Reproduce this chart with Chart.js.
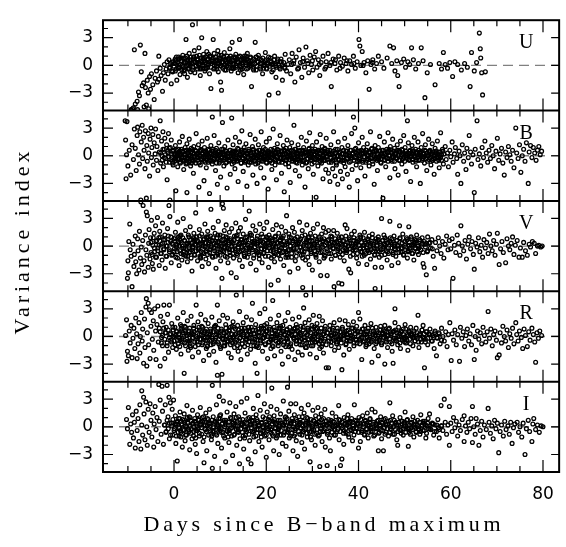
<!DOCTYPE html>
<html>
<head>
<meta charset="utf-8">
<script src="https://cdn.jsdelivr.net/npm/chart.js@4.4.1/dist/chart.umd.min.js"></script>
<style>
  html, body { margin: 0; padding: 0; background: #fff; }
  canvas { display: block; }
</style>
</head>
<body>
<canvas id="variance" width="566" height="547"></canvas>
<script>
// tick labels and band names
const bandNames = ['U', 'B', 'V', 'R', 'I'];
const dayTicks = [0, 20, 40, 60, 80];
const indexTicks = [-3, 0, 3];

// [days since B max, variance index]
const uBand = [
  [-9.3,-4.8],[-8.8,-4.6],[-8.4,-4.2],[-8.6,1.7],[-7.3,2.2],[-6.3,1.3],[-8.0,-3.9],[-7.7,-2.9],[-7.5,-3.3],[-7.1,-0.7],
  [-6.9,-2.2],[-6.6,-1.9],[-6.2,-2.4],[-6.0,-4.3],[-5.8,-1.6],[-5.6,-3.0],[-5.3,-1.2],[-5.1,-2.6],[-4.9,-0.9],[-4.6,-2.1],
  [-4.3,-3.7],[-4.1,-1.4],[-3.8,-0.6],[-3.6,-1.8],[-3.3,-1.5],[-3.3,1.0],[-3.0,-0.3],[-2.8,-1.1],[-2.5,-2.8],[-2.3,-0.8],
  [-2.1,0.1],[-1.9,-1.6],[-1.7,-0.4],[-1.5,0.4],[-1.3,-0.9],[-1.1,0.6],[-0.9,-0.2],[-0.6,-2.0],[-0.5,0.3],[-0.3,-0.7],
  [-9.0,-4.7],[-7.9,-4.8],[-6.5,-4.5],[-5.5,-4.7],
  [0.1,0.2],[0.3,-0.6],[0.5,0.9],[0.6,-1.6],[0.8,0.4],[1.0,-0.3],[1.1,0.7],[1.3,-1.0],[1.4,0.1],[1.6,0.5],
  [1.7,-0.5],[1.9,1.1],[2.0,-0.1],[2.2,0.3],[2.3,-0.9],[2.5,0.8],[2.6,2.8],[2.7,0.0],[2.9,-1.3],[3.0,0.6],
  [3.1,-0.4],[3.3,1.3],[3.4,0.2],[3.6,-0.7],[3.7,0.9],[3.9,0.3],[4.0,4.4],[4.1,-0.2],[4.2,0.7],[4.4,1.6],
  [4.5,-0.8],[4.6,0.4],[4.8,0.0],[4.9,1.0],[5.1,-0.4],[5.2,0.6],[5.4,1.9],[5.5,0.2],[5.7,-1.1],[5.8,0.8],
  [6.0,3.0],[6.1,0.3],[6.2,-0.3],[6.4,1.2],[6.5,0.5],[6.7,-0.6],[6.8,0.9],[7.0,0.1],[7.1,1.5],[7.3,-0.2],
  [7.4,0.7],[7.6,0.4],[7.7,-0.9],[7.9,1.0],[8.0,-2.5],[8.1,0.2],[8.3,0.6],[8.5,2.8],[8.6,-0.4],[8.7,1.3],
  [8.9,0.3],[9.0,0.9],[9.2,-0.1],[9.3,0.5],[9.5,1.6],[9.6,-0.7],[9.8,0.8],[9.9,0.2],[10.1,-1.8],[10.2,1.1],
  [10.3,-2.7],[10.4,0.4],[10.6,-0.3],[10.7,0.7],[10.9,1.4],[11.0,0.1],[11.2,0.6],[11.3,-0.5],[11.5,1.0],[11.6,0.3],
  [11.8,-0.2],[11.9,0.8],[12.1,1.8],[12.2,0.4],[12.4,-0.6],[12.6,2.5],[12.7,0.2],[12.9,0.9],[13.0,-0.3],[13.2,0.5],
  [13.4,1.2],[13.5,0.0],[13.7,0.7],[13.9,-0.8],[14.0,0.3],[14.2,2.8],[14.3,1.0],[14.5,-0.2],[14.7,0.6],[14.9,0.1],
  [15.1,-1.0],[15.3,0.8],[15.5,0.3],[15.7,-0.4],[15.9,1.3],[16.1,0.5],[16.3,-0.1],[16.6,0.9],[16.8,-2.3],[17.0,0.2],
  [17.3,0.7],[17.6,2.5],[17.8,-0.5],[18.1,0.4],[18.3,1.1],[18.6,-0.2],[18.9,0.6],[19.2,-0.9],[19.5,0.3],[19.8,1.4],
  [20.1,-0.4],[20.3,0.1],[20.6,-3.2],[20.9,0.8],[21.2,-0.7],[21.5,0.2],[21.8,1.0],[22.1,-1.3],[22.4,0.5],[22.6,-3.0],
  [22.9,-0.2],[23.2,0.7],[23.5,-1.6],[23.8,0.3],[24.1,1.2],[24.4,-0.6],[24.7,0.1],
  [0.4,0.5],[0.9,-0.2],[1.5,0.8],[2.1,-0.6],[2.8,0.4],[3.5,-0.1],[4.3,0.9],[5.0,0.3],[5.6,-0.3],[6.3,0.7],
  [6.9,-0.4],[7.5,1.2],[8.2,0.5],[8.8,-0.3],[9.4,0.6],[10.0,0.0],[10.8,0.9],[11.4,-0.1],[12.0,0.6],[12.8,-0.3],
  [13.3,0.9],[13.8,0.4],[14.4,-0.5],[15.0,0.7],[15.6,1.0],[16.4,0.2],[17.1,-0.3],[17.9,0.9],[18.7,0.2],[19.4,-0.3],
  [20.0,0.6],[21.0,0.3],[22.0,0.0],[23.0,0.4],[24.0,-0.3],
  [25.0,0.6],[25.3,-0.9],[25.6,1.3],[25.9,0.2],[26.2,-1.8],[26.5,0.9],[26.8,-0.4],[27.1,1.7],[27.4,0.3],[27.7,-1.3],
  [28.0,0.8],[28.3,-0.2],[28.6,2.0],[28.9,0.5],[29.2,-0.8],[29.5,1.1],[29.8,0.1],[30.1,-0.5],[30.4,0.9],[30.7,1.5],
  [31.0,-0.2],[31.3,0.6],[31.6,-1.1],[31.9,0.3],[32.3,1.0],[32.7,-0.4],[33.0,0.4],[33.4,1.3],[33.8,0.0],[34.1,-2.3],
  [34.5,0.7],[34.9,0.2],[35.3,-0.5],[35.7,1.0],[36.1,0.3],[36.5,-0.1],[36.9,0.8],[37.3,0.2],[37.7,-0.6],[38.1,0.5],
  [38.5,0.1],[38.9,1.0],[39.3,-0.3],[39.7,0.4],[40.1,2.8],[40.3,2.1],[40.5,0.0],[40.8,1.5],[41.2,0.3],[41.6,-0.8],
  [42.0,0.5],[42.3,-2.6],[42.7,0.1],[43.1,0.6],[43.5,-0.4],[43.9,0.2],[44.3,1.0],
  [25.5,0.1],[26.0,0.5],[27.0,-0.3],[27.9,0.4],[29.0,0.2],[30.0,0.5],[31.5,0.1],[32.9,-0.2],[34.0,0.3],[35.0,0.6],
  [36.0,-0.3],[37.5,0.5],[39.0,0.2],[41.0,0.0],[43.0,0.3],
  [45.0,0.4],[45.5,-0.3],[46.2,0.8],[46.8,2.1],[47.2,0.2],[47.6,1.9],[47.9,-0.6],[48.3,0.5],[48.5,-1.1],[48.8,-2.3],
  [49.3,0.3],[49.8,0.7],[50.2,-0.2],[50.7,0.4],[51.1,0.1],[51.5,1.9],[51.9,0.6],[52.4,-0.4],[53.0,0.2],[53.6,1.9],
  [54.0,0.5],[54.4,-3.5],[54.9,-0.8],[55.6,0.1],[56.6,-2.1],[57.5,0.2],[58.0,-0.4],[58.4,1.4],[58.8,0.1],[59.3,-0.3],
  [59.8,0.3],[60.4,-1.2],[60.9,0.4],[61.5,0.1],[62.3,-0.5],[63.0,0.2],[63.6,-0.2],[64.2,-2.3],[64.5,1.4],[65.1,-0.6],
  [65.6,0.3],[66.2,3.5],[66.4,1.8],[66.5,0.8],[66.7,-0.8],[66.9,-3.2],[67.5,-0.7]
];
// the crowded middle of the U cloud
const uCore = [
  [-1.0,-0.3],[-0.75,0.2],[-0.5,-0.6],[-0.25,0.4],[0.0,-0.1],[0.25,0.7],[0.5,-0.4],[0.75,0.3],[1.0,0.9],[1.25,-0.2],
  [1.5,0.5],[1.75,0.0],[2.0,0.8],[2.25,-0.5],[2.5,0.3],[2.75,1.0],[3.0,0.1],[3.25,-0.3],[3.5,0.6],[3.75,0.2],
  [4.0,-0.5],[4.25,0.9],[4.5,0.4],[4.75,-0.1],[5.0,0.7],[5.25,0.1],[5.5,1.1],[5.75,-0.4],[6.0,0.5],[6.25,0.0],
  [6.5,0.8],[6.75,0.3],[7.0,-0.3],[7.25,0.6],[7.5,0.1],[7.75,1.0],[8.0,-0.2],[8.25,0.4],[8.5,0.8],[8.75,0.0],
  [9.0,0.5],[9.25,-0.4],[9.5,0.2],[9.75,1.1],[10.0,0.6],[10.25,-0.1],[10.5,0.3],[10.75,0.9],[11.0,-0.5],[11.25,0.4],
  [11.5,0.0],[11.75,0.7],[12.0,0.2],[12.25,1.0],[12.5,-0.3],[12.75,0.5],[13.0,0.1],[13.25,0.8],[13.5,-0.2],[13.75,0.4],
  [14.0,0.9],[14.25,0.0],[14.5,0.6],[14.75,-0.4],[15.0,0.3],[15.25,1.0],[15.5,0.1],[15.75,0.6],[16.0,-0.3],[16.25,0.4],
  [16.5,0.8],[16.75,0.0],[17.0,0.5],[17.25,-0.5],[17.5,0.2],[17.75,0.9],[18.0,-0.1],[18.25,0.4],[18.5,0.7],[18.75,-0.4],
  [19.0,0.2],[19.25,0.8],[19.5,0.0],[19.75,0.5],[20.0,-0.3],[20.25,0.3],[20.5,0.9],[20.75,-0.1],[21.0,0.5],[21.25,0.1],
  [21.5,-0.5],[21.75,0.6],[22.0,0.2],[22.25,-0.2],[22.5,0.7],[22.75,0.0],[23.0,-0.4],[23.25,0.4],[23.5,0.1],[24.0,-0.2]
];

const bBand = [
  [-10.6,3.8],[-10.2,3.7],[-10.5,1.7],[-10.3,0.1],[-10.0,-1.1],[-10.4,-2.5],[-9.4,-2.1],[-9.7,0.6],[-9.1,1.2],[-8.8,-0.4],
  [-8.6,2.9],[-8.4,0.8],[-8.2,-1.6],[-8.0,2.2],[-7.9,3.1],[-7.7,0.1],[-7.5,-0.9],[-7.4,2.6],[-7.2,-4.8],[-7.1,1.5],
  [-6.9,3.3],[-6.8,-0.3],[-6.6,2.0],[-6.5,0.6],[-6.3,-1.4],[-6.2,2.7],[-6.0,-4.6],[-5.9,1.1],[-5.8,-0.6],[-5.6,2.4],
  [-5.5,0.3],[-5.3,-2.2],[-5.2,1.8],[-5.0,3.0],[-4.9,-0.2],[-4.8,0.9],
  [-4.6,2.3],[-4.5,-1.0],[-4.3,1.4],[-4.1,0.2],[-4.0,2.9],[-3.8,-0.5],[-3.7,1.0],[-3.5,-1.6],[-3.4,2.1],[-3.2,0.4],
  [-3.0,3.8],[-2.9,-0.8],[-2.7,1.6],[-2.6,0.0],[-2.4,2.6],[-2.3,-1.2],[-2.1,0.7],[-2.0,1.9],[-1.8,-0.3],[-1.6,1.2],
  [-1.5,-2.6],[-1.3,0.3],[-1.2,2.4],[-1.0,-0.7],[-0.9,-4.8],[-0.8,0.9],[-0.6,1.7],[-0.5,-0.2],[-0.3,0.5],[-0.2,-1.0],
  [0.0,0.2],[0.1,-0.6],[0.3,1.1],[0.4,-3.8],[0.5,-0.1],[0.6,0.6],[0.8,-1.2],[0.9,0.3],[1.0,-0.4],[1.2,1.5],
  [1.3,0.0],[1.4,-0.8],[1.6,0.7],[1.7,-0.2],[1.8,2.1],[2.0,0.4],[2.1,-1.5],[2.2,-0.5],[2.4,0.9],[2.5,0.1],
  [2.6,-0.9],[2.8,-4.0],[2.8,1.3],[2.9,-0.3],[3.1,0.5],[3.2,-0.7],[3.3,1.8],[3.5,0.0],[3.6,-1.1],[3.7,0.8],
  [3.9,-0.4],[4.0,0.3],[4.2,-1.9],[4.3,1.0],[4.4,-0.1],[4.6,0.6],[4.7,-0.8],[4.8,2.4],[5.0,0.2],[5.1,-0.5],
  [5.3,1.2],[5.4,-3.4],[5.5,0.0],[5.7,-1.0],[5.8,0.7],[6.0,-0.3],[6.1,1.6],[6.2,0.3],[6.4,-0.6],[6.5,-2.7],
  [6.6,0.9],[6.8,-0.1],[6.9,0.4],[7.0,-1.3],[7.2,1.9],[7.3,0.1],[7.4,-0.7],[7.6,0.6],[7.7,-4.1],[7.8,-0.2],
  [8.0,1.1],[8.1,0.2],[8.3,4.2],[8.3,-0.9],[8.5,0.5],[8.6,-0.4],[8.7,2.2],[8.9,0.0],[9.0,-1.6],[9.2,0.8],
  [9.3,-0.3],[9.4,-3.1],[9.6,0.4],[9.7,1.4],[9.8,-0.8],[10.0,0.1],[10.1,-2.3],[10.3,0.7],[10.4,-0.5],[10.5,3.6],
  [10.7,0.2],[10.8,-1.1],[11.0,1.0],[11.1,-0.2],[11.2,0.5],[11.4,-0.7],[11.5,-3.5],[11.7,1.7],[11.8,0.0],[11.9,-0.4],
  [12.1,0.6],[12.2,-2.0],[12.4,0.3],[12.5,4.1],[12.6,-0.9],[12.8,1.2],[12.9,-0.1],[13.1,0.4],[13.2,-1.4],[13.3,2.0],
  [13.5,0.1],[13.6,-0.6],[13.8,0.8],[13.9,-2.8],[14.0,-0.3],[14.2,1.5],[14.3,0.2],[14.5,-0.8],[14.6,0.6],[14.7,2.7],
  [14.9,-0.2],[15.0,-1.7],[15.2,0.9],[15.3,0.0],[15.5,-0.5],[15.6,1.3],[15.8,-3.3],[15.9,0.3],[16.1,-1.0],[16.2,0.7],
  [16.4,-0.3],[16.5,2.3],[16.7,0.1],[16.8,-0.7],[17.0,1.0],[17.1,-2.1],[17.3,0.4],[17.4,-0.1],[17.6,1.8],[17.7,-0.9],
  [17.9,0.5],[18.0,-3.0],[18.2,0.0],[18.3,1.2],[18.5,-0.4],[18.6,0.6],[18.8,-1.3],[18.9,2.6],[19.1,0.2],[19.2,-0.6],
  [19.4,0.9],[19.5,-2.4],[19.7,0.3],[19.8,-0.2],[20.0,1.5],[20.1,-0.8],[20.3,0.5],[20.4,-3.6],[20.6,0.0],[20.7,1.9],
  [20.9,-0.5],[21.0,0.7],[21.2,-1.5],[21.3,0.2],[21.5,2.9],[21.6,-0.3],[21.8,0.8],[21.9,-1.0],[22.1,0.4],[22.2,-2.6],
  [22.4,1.3],[22.5,-0.1],[22.7,0.6],[22.8,-0.7],[23.0,2.2],[23.1,0.1],[23.3,-1.9],[23.4,0.5],[23.6,-0.4],[23.7,1.1],
  [23.9,-3.9],[24.0,0.2],[24.2,-0.9],[24.3,0.8],[24.5,1.7],[24.6,-0.2],[24.8,0.4],[24.9,-1.2],[25.1,0.9],[25.2,-2.9],
  [25.4,0.0],[25.5,1.4],[25.7,-0.6],[25.8,0.5],[26.0,3.3],[26.1,-0.1],[26.3,-1.6],[26.4,0.7],[26.6,0.2],[26.7,-0.8],
  [26.9,1.2],[27.0,-0.3],[27.2,-2.2],[27.3,0.6],[27.5,-0.1],[27.6,2.0],[27.8,-1.0],[27.9,0.3],[28.1,0.9],[28.2,-0.5],
  [28.4,-3.4],[28.5,0.4],[28.7,1.6],[28.8,-0.7],[29.0,0.1],[29.1,-1.4],[29.3,0.8],[29.4,2.5],[29.6,-0.2],[29.7,0.5],
  [29.9,-0.9],[30.0,1.1],[30.2,-2.0],[30.3,0.2],[30.5,-0.4],[30.6,0.7],[30.8,-4.5],[30.9,1.5],[31.1,0.0],[31.2,-1.1],
  [31.4,0.6],[31.5,-0.3],[31.7,2.3],[31.8,0.3],[32.0,-0.8],[32.1,1.0],[32.3,-2.5],[32.4,0.1],[32.6,-0.5],[32.7,0.8],
  [32.9,-1.5],[33.0,1.9],
  [0.7,0.0],[1.1,0.4],[1.9,-0.5],[2.3,0.2],[3.0,-0.2],[3.4,0.6],[4.1,-0.5],[4.9,0.1],[5.6,0.5],[6.3,-0.1],
  [7.1,0.3],[7.9,-0.5],[8.4,0.7],[9.1,0.0],[9.9,-0.4],[10.6,0.4],[11.3,0.0],[12.0,-0.6],[12.7,0.5],[13.4,-0.3],
  [14.1,0.1],[14.8,0.6],[15.4,-0.7],[16.0,0.2],[16.6,-0.4],[17.2,0.6],[17.8,0.0],[18.4,-0.6],[19.0,0.4],[19.6,-0.1],
  [20.2,0.3],[20.8,-0.6],[21.4,0.1],[22.0,-0.4],[22.6,0.4],[23.2,-0.2],[23.8,0.6],[24.4,-0.5],[25.0,0.1],[25.6,-0.3],
  [26.2,0.4],[26.8,-0.1],[27.4,0.2],[28.0,-0.6],[28.6,0.0],[29.2,0.4],[29.8,-0.4],[30.4,0.1],[31.0,0.5],[31.6,-0.6],
  [32.2,-0.1],[32.8,0.3],[0.2,-0.3],[1.5,0.1],[2.7,0.6],[3.8,-0.8],[5.2,-0.2],[6.7,0.4],[7.5,-0.1],[8.8,0.3],
  [10.2,-0.2],[11.6,0.3],[13.0,-0.5],[14.4,0.0],[15.7,0.3],[17.5,-0.5],[18.7,0.1],[20.5,-0.2],[21.7,0.3],[23.5,0.1],
  [24.7,-0.1],[26.5,-0.4],[27.7,0.5],[29.5,-0.1],[30.7,-0.3],[32.5,0.5],
  [33.2,-0.4],[33.4,0.6],[33.5,-1.9],[33.7,0.1],[33.8,-2.8],[34.0,1.2],[34.1,-0.7],[34.3,0.3],[34.4,-1.4],[34.6,2.6],
  [34.7,-0.2],[34.9,-2.2],[35.0,0.7],[35.2,-1.0],[35.3,0.0],[35.5,-3.1],[35.6,1.5],[35.8,-0.5],[35.9,0.4],[36.1,-1.7],
  [36.2,-0.1],[36.4,0.9],[36.5,-2.5],[36.7,0.2],[36.8,-0.8],[37.0,1.9],[37.1,-1.2],[37.3,0.5],[37.4,-0.3],[37.6,-2.0],
  [37.7,1.1],[37.9,0.0],[38.0,-3.4],[38.2,0.6],[38.3,-0.6],[38.5,2.4],[38.6,-1.5],[38.8,0.3],[38.9,4.2],[39.1,-0.2],
  [39.2,3.0],[39.4,0.8],[39.5,-1.0],[39.7,0.1],[39.8,-2.7],[40.0,1.4],[40.2,-0.4],[40.3,0.5],[40.5,-1.3],[40.6,0.2],
  [40.8,2.0],[40.9,-0.7],[41.1,0.9],[41.3,-0.1],[41.4,-2.2],[41.6,0.6],[41.8,-0.5],[41.9,1.3],[42.1,0.0],[42.3,-1.1],
  [42.4,0.4],[42.6,2.6],[42.8,-0.3],[42.9,0.8],[43.1,-0.9],[43.3,0.2],[43.4,-3.1],[43.6,1.1],[43.8,-0.2],[43.9,0.5],
  [44.1,-1.6],[44.3,0.9],[44.4,-0.4],[44.6,2.1],[44.8,0.1],[44.9,-0.8],[45.1,0.6],[45.3,-4.6],[45.4,-0.1],[45.6,1.5],
  [45.8,0.3],[45.9,-1.2],[46.1,0.7],[46.3,-0.3],[46.4,2.5],[46.6,0.0],[46.8,-2.4],[46.9,1.0],[47.1,0.4],[47.3,-0.6],
  [47.4,1.8],[47.6,-0.1],[47.8,0.8],[47.9,-1.4],[48.1,0.3],[48.3,-0.3],[48.4,1.2],[48.6,-2.1],[48.8,0.5],[48.9,-0.5],
  [49.1,1.6],[49.3,0.1],[49.4,-0.9],[49.6,0.6],[49.8,2.2],[49.9,-0.2],[50.1,0.9],[50.3,-1.7],[50.4,0.2],[50.6,3.8],
  [50.8,1.4],[50.9,-0.4],[51.1,0.5],[51.3,-2.8],[51.4,0.0],[51.6,1.1],[51.8,-0.7],[51.9,0.3],[52.1,2.0],[52.3,-0.2],
  [52.4,0.7],[52.6,-1.2],[52.8,0.1],[52.9,1.5],[53.1,-0.5],[53.3,0.4],[53.4,-3.0],[53.6,0.9],[53.8,-0.1],[53.9,2.4],
  [54.1,0.2],[54.3,-0.8],[54.5,1.2],[54.6,0.5],[54.8,-1.6],[55.0,0.0],[55.2,1.8],[55.3,-0.4],[55.5,0.6],[55.7,-1.0],
  [55.9,0.3],[56.0,1.3],[56.2,-0.3],[56.4,-2.0],[56.6,0.8],[56.7,0.1],[56.9,-0.6],[57.1,1.6],[57.3,0.4],[57.5,-1.3],
  [57.6,0.0],[57.8,2.5],[58.0,-0.5],[58.2,0.7],[58.4,-0.9],[58.5,0.2],
  [33.9,0.2],[34.8,-0.4],[35.7,0.3],[36.6,-0.5],[37.5,0.1],[38.4,-0.2],[39.3,0.4],[40.1,-0.6],[41.0,0.3],[41.9,-0.3],
  [42.7,0.1],[43.5,0.5],[44.2,-0.3],[45.0,0.2],[45.7,-0.5],[46.5,0.5],[47.2,-0.2],[48.0,0.1],[48.7,0.6],[49.5,-0.4],
  [50.2,0.2],[51.0,-0.1],[51.7,0.5],[52.5,-0.4],[53.2,0.3],[54.0,-0.3],[54.7,0.0],[55.4,0.4],[56.1,-0.5],[56.8,0.3],
  [57.4,-0.2],[58.3,0.5],
  [58.8,1.0],[59.0,-0.4],[59.3,0.3],[59.5,-1.2],[59.8,0.6],[60.0,-0.1],[60.3,1.5],[60.5,-0.7],[60.8,0.2],[61.0,0.9],
  [61.3,-0.3],[61.5,-2.0],[61.8,0.5],[62.0,0.0],[62.2,-3.0],[62.5,1.2],[62.8,-0.6],[63.0,0.3],[63.3,-1.5],[63.5,0.8],
  [63.8,-0.2],[64.0,2.2],[64.3,0.4],[64.5,-0.9],[64.8,0.1],[65.1,-4.0],[65.3,0.7],[65.7,3.8],[65.9,-0.4],[66.2,0.2],
  [66.5,-1.1],[66.8,0.9],[67.1,-0.2],[67.4,1.6],[67.7,0.3],[68.0,-0.7],[68.3,0.6],[68.6,-0.3],[68.9,1.1],[69.2,0.0],
  [69.5,-1.4],[69.8,0.5],[70.1,1.9],[70.4,-0.5],[70.7,0.2],[71.0,0.8],[71.3,-0.8],[71.6,-2.1],[71.9,0.4],[72.2,-0.2],
  [72.5,1.0],[72.8,0.1],[73.1,-0.6],[73.4,0.6],[73.7,-1.3],[74.1,3.0],[74.3,0.3],[74.6,-0.3],[74.9,1.2],[75.2,-1.8],
  [75.5,0.0],[75.8,0.7],[76.1,-0.6],[76.4,1.4],[76.8,-3.0],[77.0,0.4],[77.3,1.1],[77.6,-0.2],[77.9,0.9],[78.2,0.3],
  [78.5,-0.5],[78.8,0.6],[79.1,1.0],[79.4,0.1],[79.7,0.5]
];
const bCore = [
  [-2.9,0.3],[-2.6,-0.5],[-2.4,0.7],[-2.1,-0.2],[-1.9,0.1],[-1.7,-0.7],[-1.4,0.5],[-1.2,-0.1],[-1.0,0.8],[-0.7,-0.4],
  [-0.5,0.2],[-0.3,-0.8],[-0.1,0.6],[0.2,0.0],[0.4,-0.5],[0.6,0.3],[0.8,-0.3],[1.0,0.7],[1.2,-0.7],[1.4,0.2],
  [1.6,-0.1],[1.8,0.5],[2.0,-0.6],[2.2,0.1],[2.4,-0.3],[2.6,0.6],[2.8,-0.8],[3.0,0.3],[3.2,0.0],[3.4,-0.5],
  [3.6,0.4],[3.8,-0.2],[4.0,0.7],[4.2,-0.6],[4.4,0.2],[4.6,-0.4],[4.8,0.5],[5.0,-0.1],[5.2,0.3],[5.4,-0.8],
  [5.6,0.0],[5.8,0.6],[6.0,-0.4],[6.2,0.2],[6.4,-0.2],[6.6,0.5],[6.8,-0.7],[7.0,0.1],[7.2,-0.3],[7.4,0.7],
  [7.6,-0.5],[7.8,0.3],[8.0,-0.1],[8.2,0.5],[8.4,-0.6],[8.6,0.1],[8.8,-0.3],[9.0,0.6],[9.2,-0.8],[9.4,0.2],
  [9.6,0.0],[9.8,0.4],[10.0,-0.6],[10.2,0.3],[10.4,-0.2],[10.6,0.7],[10.8,-0.4],[11.0,0.1],[11.2,-0.8],[11.4,0.5],
  [11.6,-0.1],[11.8,0.3],[12.0,-0.5],[12.2,0.6],[12.4,0.0],[12.6,-0.3],[12.8,0.2],[13.0,-0.7],[13.2,0.5],[13.4,-0.1],
  [13.6,0.3],[13.8,-0.5],[14.0,0.7],[14.2,-0.2],[14.4,0.1],[14.6,-0.8],[14.8,0.4],[15.0,-0.3],[15.2,0.6],[15.4,0.0],
  [15.6,-0.6],[15.8,0.2],[16.0,-0.2],[16.2,0.5],[16.4,-0.7],[16.6,0.3],[16.8,0.0],[17.0,-0.4],[17.2,0.7],[17.4,-0.6],
  [17.6,0.1],[17.8,-0.2],[18.0,0.4],[18.2,-0.8],[18.4,0.6],[18.6,-0.1],[18.8,0.2],[19.0,-0.5],[19.2,0.5],[19.4,-0.3],
  [19.6,0.0],[19.8,0.7],[20.0,-0.7],[20.2,0.1],[20.4,-0.2],[20.6,0.4],[20.8,-0.4],[21.0,0.2],[21.2,-0.8],[21.4,0.6],
  [21.6,0.0],[21.8,-0.5],[22.0,0.3],[22.2,-0.1],[22.4,0.7],[22.6,-0.6],[22.8,0.1],[23.0,-0.3],[23.2,0.5],[23.4,-0.7],
  [23.6,0.2],[23.8,-0.2],[24.0,0.6],[24.2,-0.4],[24.4,0.0],[24.6,0.4],[24.8,-0.8],[25.0,0.3],[25.2,-0.1],[25.4,0.6],
  [25.6,-0.5],[25.8,0.1],[26.0,-0.3],[26.2,0.7],[26.4,-0.7],[26.6,0.3],[26.8,0.0],[27.0,-0.5],[27.2,0.5],[27.4,-0.2],
  [27.6,0.2],[27.8,-0.6],[28.0,0.6],[28.2,-0.1],[28.4,0.3],[28.6,-0.8],[28.8,0.4],[29.0,-0.3],[29.2,0.7],[29.4,0.0],
  [29.6,-0.5],[29.8,0.2],[30.0,-0.2],[30.2,0.5],[30.4,-0.7],[30.6,0.1],[30.8,0.4],[31.0,-0.4],[31.2,0.6],[31.4,-0.1],
  [31.6,0.2],[31.8,-0.6],[32.0,0.5],[32.2,-0.3],[32.4,0.0],[32.6,0.7],[32.8,-0.5],[33.0,0.2],[33.2,-0.1],[33.4,0.4],
  [33.6,-0.7],[33.8,0.6],[34.0,-0.2],[34.2,0.1],[34.4,-0.5],[34.6,0.5],[34.8,-0.1],[35.0,0.3],[35.2,-0.8],[35.4,0.7],
  [35.6,0.0],[35.8,-0.4],[36.0,0.4],[36.2,-0.6],[36.4,0.2],[36.6,-0.2],[36.8,0.6],[37.0,-0.5],[37.2,0.1],[37.4,0.5],
  [37.6,-0.3],[37.8,0.3],[38.0,-0.7],[38.2,0.0],[38.4,0.6],[38.6,-0.2],[38.8,0.2],[39.0,-0.5],[39.2,0.7],[39.4,-0.1],
  [39.6,0.3],[39.8,-0.6],[40.0,0.5],[40.2,0.0],[40.4,-0.3],[40.6,0.6],[40.8,-0.5],[41.0,0.2],[41.2,-0.1],[41.4,0.4],
  [41.6,-0.7],[41.8,0.6],[42.0,0.1],[42.2,-0.4],[42.4,0.3],[42.6,-0.2],[42.8,0.7],[43.0,-0.6],[43.2,0.4],[43.4,0.0],
  [43.6,-0.3],[43.8,0.6],[44.0,-0.5],[44.2,0.2],[44.4,-0.1],[44.6,0.5],[44.8,-0.7],[45.0,0.3],[45.2,0.0],[45.4,0.6],
  [45.6,-0.4],[45.8,0.1],[46.0,-0.2],[46.2,0.4],[46.4,-0.6],[46.6,0.7],[46.8,0.0],[47.0,-0.4],[47.2,0.3],[47.4,-0.1],
  [47.6,0.5],[47.8,-0.6],[48.0,0.2],[48.2,-0.2],[48.4,0.6],[48.6,0.0],[48.8,-0.5],[49.0,0.4],[49.2,-0.1],[49.4,0.7],
  [49.6,-0.3],[49.8,0.2],[50.0,-0.6],[50.2,0.5],[50.4,0.0],[50.6,-0.3],[50.8,0.3],[51.0,-0.5],[51.2,0.6],[51.4,-0.1],
  [51.6,0.2],[51.8,-0.4],[52.0,0.5],[52.2,0.0],[52.4,-0.6],[52.6,0.3],[52.8,-0.2],[53.0,0.6],[53.2,-0.4],[53.4,0.1],
  [53.6,0.4],[53.8,-0.5],[54.0,0.2],[54.2,-0.1],[54.4,0.6],[54.6,-0.3],[54.8,0.3],[55.0,-0.6],[55.2,0.0],[55.4,0.5],
  [55.6,-0.2],[55.8,0.2],[56.0,-0.5],[56.2,0.4],[56.4,0.0],[56.6,-0.3],[56.8,0.5],[57.0,-0.1],[57.2,0.2],[57.4,-0.5],
  [57.6,0.4],[57.8,-0.2],[58.0,0.1]
];

const vBand = [
  [-10.1,-3.5],[-9.9,-2.9],[-10.0,-1.6],[-9.8,0.5],[-9.6,2.4],[-9.5,-0.4],[-9.3,-1.1],[-9.1,-4.4],[-8.9,0.2],[-8.7,-2.2],
  [-8.6,-0.9],[-8.4,1.1],[-8.3,-1.7],[-8.1,-3.0],[-7.9,0.8],[-7.8,-0.5],[-7.6,-2.6],[-7.5,1.6],[-7.3,-1.3],[-7.2,4.8],
  [-7.1,-0.1],[-7.0,-2.0],[-6.8,0.6],[-6.7,4.4],[-6.5,-1.6],[-6.4,-2.8],[-6.2,1.2],[-6.1,-0.4],[-6.0,3.7],[-5.9,-1.0],
  [-5.8,3.3],[-5.6,-2.3],[-5.5,0.3],[-5.4,1.8],[-5.2,-1.4],[-5.1,0.9],[-5.0,-0.7],[-4.9,2.8],[-4.7,-1.9],[-4.6,0.1],
  [-4.5,-2.5],[-4.3,1.4],[-4.2,-0.6],[-4.0,2.2],[-3.9,0.5],[-3.8,-1.2],[-3.6,3.1],[-3.5,-0.2],[-3.3,0.9],[-3.2,-2.1],
  [-3.1,1.6],[-2.9,-0.8],[-2.8,0.2],[-2.6,-1.5],[-2.5,2.5],[-2.3,0.7],[-2.2,-0.4],[-2.0,1.2],[-1.9,-2.4],[-1.7,0.0],
  [-1.6,-1.1],[-1.4,1.9],[-1.3,0.4],[-1.1,4.4],[-1.0,-0.6],[-0.9,3.2],[-0.7,1.0],[-0.6,-1.8],[-0.4,0.3],[-0.3,-0.9],
  [0.0,0.8],[0.1,-0.3],[0.3,1.5],[0.4,-1.2],[0.5,0.2],[0.7,-0.6],[0.8,2.6],[0.9,0.5],[1.1,-2.1],[1.2,0.0],
  [1.3,1.1],[1.5,-0.8],[1.6,0.4],[1.7,-1.5],[1.9,0.9],[2.0,3.0],[2.1,-0.2],[2.3,0.6],[2.4,-1.0],[2.5,1.7],
  [2.7,-0.4],[2.8,0.3],[2.9,-1.7],[3.1,1.2],[3.2,0.1],[3.3,-0.7],[3.5,2.1],[3.6,0.7],[3.7,-1.3],[3.9,-2.7],
  [4.0,0.4],[4.1,-0.1],[4.3,1.4],[4.4,-0.9],[4.5,0.2],[4.7,3.6],[4.8,-0.5],[4.9,1.0],[5.1,-1.6],[5.2,0.5],
  [5.3,-0.2],[5.5,1.8],[5.6,-1.1],[5.7,0.3],[5.9,-0.6],[6.0,1.3],[6.1,-2.2],[6.3,0.0],[6.4,0.8],[6.5,-0.8],
  [6.7,2.4],[6.8,0.4],[6.9,-1.4],[7.1,0.9],[7.2,-0.3],[7.3,1.6],[7.5,-1.9],[7.6,0.2],[7.7,-0.7],[7.9,1.1],
  [8.0,4.0],[8.1,-0.1],[8.3,0.6],[8.4,-1.2],[8.5,2.0],[8.7,0.3],[8.8,-0.5],[8.9,1.4],[9.1,-2.4],[9.2,0.1],
  [9.3,0.9],[9.5,-0.9],[9.6,2.7],[9.7,0.5],[9.9,-0.3],[10.0,1.2],[10.1,-1.6],[10.3,0.0],[10.4,-3.5],[10.5,4.6],
  [10.6,0.7],[10.7,4.1],[10.8,-0.6],[10.9,1.7],[11.1,-1.1],[11.2,0.4],[11.3,2.3],[11.5,-0.2],[11.6,0.9],[11.7,-1.8],
  [11.9,0.2],[12.0,1.5],[12.1,-0.7],[12.3,0.6],[12.4,-2.9],[12.5,1.9],[12.7,-0.4],[12.8,0.3],[12.9,-1.3],[13.1,1.1],
  [13.2,0.0],[13.4,2.5],[13.5,-3.4],[13.6,-0.8],[13.8,0.8],[13.9,-0.1],[14.0,1.6],[14.2,-1.5],[14.3,0.4],[14.4,2.0],
  [14.6,-0.5],[14.7,0.7],[14.8,-2.2],[15.0,1.3],[15.1,0.1],[15.2,-0.9],[15.4,0.5],[15.5,2.9],[15.6,-0.2],[15.8,1.0],
  [15.9,-1.2],[16.1,0.3],[16.2,-0.6],[16.3,3.8],[16.5,1.4],[16.6,-1.9],[16.7,0.0],[16.9,0.8],[17.0,-0.4],[17.1,2.2],
  [17.3,-1.0],[17.4,0.5],[17.5,-0.1],[17.7,1.7],[17.8,-2.6],[17.9,0.2],[18.1,1.1],[18.2,-0.7],[18.3,0.6],[18.5,-1.4],
  [18.6,2.4],[18.7,0.1],[18.9,-0.3],[19.0,1.3],[19.1,-1.8],[19.3,0.4],[19.4,-0.8],[19.5,1.9],[19.7,0.0],[19.8,-1.1],
  [19.9,0.7],[20.1,2.6],[20.2,-0.5],[20.3,0.3],[20.5,-2.3],[20.6,1.2],[20.7,-0.2],[20.9,0.9],[21.0,-4.2],[21.1,-1.3],
  [21.3,0.5],[21.4,1.8],[21.5,-0.6],[21.7,0.2],[21.8,-1.7],[21.9,1.0],[22.1,-0.1],[22.2,2.3],[22.3,0.4],[22.5,-0.9],
  [22.6,-3.7],[22.7,1.4],[22.9,-0.4],[23.0,0.7],[23.1,-1.4],[23.3,2.1],[23.4,0.1],[23.5,-0.7],[23.7,1.1],[23.8,-2.1],
  [23.9,0.5],[24.1,-0.2],[24.2,1.6],[24.4,3.3],[24.5,-1.0],[24.6,0.3],[24.8,-0.5],[24.9,1.3],[25.1,-2.8],[25.2,0.0],
  [25.4,0.9],[25.5,-1.2],[25.7,2.0],[25.8,0.6],[26.0,-0.3],[26.1,1.5],[26.3,-1.6],[26.4,0.2],[26.6,-0.7],[26.7,1.0],
  [26.9,-2.4],[27.0,0.4],[27.2,2.6],[27.3,-0.1],[27.5,0.8],[27.6,-1.0],[27.8,1.7],[27.9,-4.5],[28.1,0.1],[28.2,-0.6],
  [28.4,1.2],[28.5,-1.5],[28.7,0.5],[28.8,2.3],[29.0,-0.3],[29.1,0.9],[29.3,-2.0],[29.4,0.2],[29.6,1.4],[29.7,-0.8],
  [29.9,0.6],[30.0,-2.6],[30.2,1.9],[30.3,0.0],[30.5,-0.5],[30.6,1.1],[30.8,-1.2],[30.9,0.4],[31.1,2.4],[31.2,-0.2],
  [31.4,0.8],[31.5,-1.7],[31.7,0.3],[31.8,-3.2],[32.0,1.3],[32.1,-0.6],[32.3,0.5],[32.4,2.0],[32.6,-1.0],[32.7,0.1],
  [32.9,1.5],
  [0.6,0.1],[1.4,0.6],[2.2,-0.6],[3.0,0.3],[3.8,-0.4],[4.6,0.7],[5.4,-0.3],[6.2,0.4],[7.0,-0.5],[7.8,0.6],
  [8.6,-0.2],[9.4,0.4],[10.2,-0.4],[11.0,0.3],[11.8,-0.3],[12.6,0.5],[13.3,-0.5],[14.1,0.2],[14.9,-0.4],[15.7,0.6],
  [16.4,-0.2],[17.2,0.3],[18.0,-0.6],[18.8,0.5],[19.6,-0.3],[20.4,0.4],[21.2,-0.1],[22.0,0.6],[22.8,-0.5],[23.6,0.2],
  [24.3,-0.6],[25.0,0.5],[25.9,-0.4],[26.8,0.3],[27.7,-0.5],[28.6,0.4],[29.5,-0.4],[30.4,0.2],[31.3,-0.4],[32.2,0.6],
  [1.0,1.0],[2.6,-1.1],[4.2,0.9],[5.8,-1.3],[7.4,1.0],[9.0,-1.1],[10.6,1.1],[12.2,-1.0],[13.7,1.2],[15.3,-1.1],
  [16.8,1.2],[18.4,-1.0],[20.0,1.0],[21.6,-1.1],[23.2,0.9],[24.7,-1.2],[26.2,0.8],[27.9,-1.3],[29.2,1.0],[30.7,-0.9],
  [32.5,-1.3],
  [33.1,-0.3],[33.2,-3.2],[33.3,0.6],[33.5,1.7],[33.6,-0.8],[33.8,0.2],[34.0,1.1],[34.1,-1.4],[34.3,0.4],[34.5,-0.2],
  [34.6,1.7],[34.7,-4.4],[34.9,0.8],[35.0,-1.0],[35.2,0.0],[35.4,1.4],[35.5,-0.5],[35.7,-4.0],[35.8,0.7],[36.0,-1.2],
  [36.1,0.3],[36.3,1.0],[36.4,-4.1],[36.6,-0.4],[36.7,0.5],[36.9,-1.6],[37.1,2.3],[37.2,0.1],[37.4,-0.7],[37.5,1.9],
  [37.7,0.4],[37.9,-2.5],[38.0,0.9],[38.2,-0.3],[38.3,-2.9],[38.5,1.3],[38.6,0.0],[38.8,-0.9],[39.0,0.6],[39.1,1.6],
  [39.3,-0.4],[39.5,0.2],[39.6,-1.3],[39.8,0.8],[40.0,-1.9],[40.1,0.1],[40.3,1.2],[40.5,-0.6],[40.6,0.4],[40.8,-1.1],
  [41.0,0.9],[41.1,-0.2],[41.3,1.5],[41.5,0.3],[41.6,-0.8],[41.8,-2.0],[42.0,0.6],[42.1,-0.4],[42.3,1.1],[42.5,0.0],
  [42.6,-1.4],[42.8,0.5],[43.0,1.3],[43.1,-0.6],[43.3,0.2],[43.5,-1.0],[43.6,-2.3],[43.6,-4.6],[43.8,0.8],[44.0,0.0],
  [44.2,-0.5],[44.3,1.0],[44.5,-1.2],[44.7,0.3],[45.0,3.0],[45.0,-2.3],[45.2,0.6],[45.3,-0.3],[45.5,1.2],[45.7,-0.9],
  [45.8,0.1],[46.0,0.7],[46.2,-1.5],[46.4,0.4],[46.5,-0.2],[46.8,2.7],[46.9,0.9],[47.2,-2.1],[47.3,0.2],[47.5,-0.7],
  [47.7,1.1],[47.9,0.0],[48.1,-1.1],[48.3,0.6],[48.6,-1.8],[48.7,-0.3],[48.9,2.2],[49.0,0.8],[49.2,-0.6],[49.4,0.3],
  [49.6,1.3],[49.8,-1.0],[50.0,0.1],[50.2,-0.4],[50.4,0.9],[50.6,-1.3],[50.9,2.1],[51.0,0.4],[51.2,-0.2],[51.4,1.0],
  [51.6,-0.8],[51.8,0.2],[52.0,-1.5],[52.2,0.7],[52.4,-0.3],[52.6,1.2],[52.8,0.0],[53.0,-0.9],[53.3,0.5],[53.5,-0.4],
  [53.8,0.9],[54.0,-1.9],[54.2,-2.3],[54.4,0.2],[54.7,-3.1],[54.9,-0.6],[55.0,1.0],[55.3,0.3],[55.6,-0.2],[55.9,0.7],
  [56.2,-1.1],[56.5,-2.4],[56.7,0.4],[57.0,-0.5],[57.3,0.9],[57.6,0.0],[57.9,-0.8],[58.2,0.5],[58.5,-1.3],[58.8,0.2],
  [59.1,1.1],[59.4,-0.4],[59.7,0.6],
  [33.9,-0.1],[34.8,0.4],[35.6,-0.3],[36.5,0.1],[37.3,-0.4],[38.1,0.3],[38.9,-0.2],[39.7,0.5],[40.4,-0.3],[41.2,0.1],
  [42.0,-0.5],[42.7,0.3],[43.4,-0.2],[44.1,0.5],[44.9,-0.4],[45.6,0.2],[46.3,-0.6],[47.1,0.4],[47.8,-0.3],[48.5,0.1],
  [49.3,-0.2],[50.1,0.5],[50.8,-0.5],[51.5,0.1],[52.3,0.4],[53.1,-0.2],[53.9,0.3],
  [60.0,-0.3],[60.3,0.8],[60.5,-3.5],[60.8,0.1],[61.1,-0.7],[61.4,1.2],[61.7,0.3],[62.0,-1.0],[62.2,2.2],[62.5,0.0],
  [62.8,-0.5],[63.1,0.6],[63.4,-1.4],[63.7,0.2],[64.0,1.0],[64.3,-0.3],[64.6,0.5],[64.9,-0.9],[65.1,-2.5],[65.4,0.3],
  [65.7,-0.1],[66.0,0.9],[66.3,-0.6],[66.6,0.1],[66.9,-1.2],[67.2,0.7],[67.5,-0.2],[67.8,0.4],[68.1,-0.8],[68.4,1.3],
  [68.7,0.0],[69.0,-0.5],[69.3,0.6],[69.6,-1.0],[69.9,0.2],[70.1,1.4],[70.5,-2.0],[70.8,-0.3],[71.1,0.5],[71.4,-0.7],
  [71.9,-1.8],[72.2,0.8],[72.5,0.0],[72.8,-0.4],[73.1,0.3],[73.4,1.0],[73.7,-0.9],[74.0,0.1],[74.4,0.6],[74.8,-1.2],
  [75.1,-0.2],[75.5,-1.2],[75.8,0.4],[76.2,-0.5],[76.6,-1.0],[77.0,0.2],[77.3,-0.1],[77.7,0.5],[78.1,0.3],[78.4,-0.8],
  [78.8,0.0],[79.1,0.1],[79.5,-0.1],[79.8,0.0]
];
const vCore = [
  [-5.0,0.4],[-4.75,-0.9],[-4.5,0.9],[-4.25,-0.2],[-4.0,-1.2],[-3.75,0.6],[-3.5,-0.5],[-3.25,0.1],[-3.0,1.0],[-2.75,-0.8],
  [-2.5,0.3],[-2.25,-0.3],[-2.0,0.7],[-1.75,-1.1],[-1.5,0.0],[-1.25,1.1],[-1.0,-0.4],[-0.75,0.5],[-0.5,-1.0],[-0.25,0.2],
  [0.0,-0.6],[0.25,0.9],[0.5,-0.1],[0.75,-1.3],[1.0,0.4],[1.25,-0.5],[1.5,1.2],[1.75,0.0],[2.0,-0.9],[2.25,0.6],
  [2.5,-0.3],[2.75,0.2],[3.0,-1.1],[3.25,1.0],[3.5,-0.6],[3.75,0.3],[4.0,-0.2],[4.25,0.8],[4.5,-1.0],[4.75,0.1],
  [5.0,0.6],[5.25,-0.4],[5.5,1.1],[5.75,-1.2],[6.0,0.2],[6.25,-0.7],[6.5,0.7],[6.75,-0.1],[7.0,1.0],[7.25,-0.9],
  [7.5,0.4],[7.75,-0.4],[8.0,0.1],[8.25,-1.1],[8.5,0.9],[8.75,-0.2],[9.0,0.5],[9.25,-0.7],[9.5,1.2],[9.75,0.0],
  [10.0,-1.0],[10.25,0.6],[10.5,-0.5],[10.75,0.2],[11.0,-0.1],[11.25,1.0],[11.5,-1.2],[11.75,0.4],[12.0,-0.4],[12.25,0.8],
  [12.5,0.0],[12.75,-0.8],[13.0,0.6],[13.25,-0.3],[13.5,1.1],[13.75,-1.0],[14.0,0.2],[14.25,-0.6],[14.5,0.7],[14.75,-0.1],
  [15.0,0.4],[15.25,-1.1],[15.5,0.9],[15.75,-0.4],[16.0,0.1],[16.25,-0.8],[16.5,1.2],[16.75,-0.2],[17.0,0.5],[17.25,-1.3],
  [17.5,0.3],[17.75,-0.5],[18.0,0.8],[18.25,0.0],[18.5,-0.9],[18.75,0.6],[19.0,-0.3],[19.25,1.0],[19.5,-0.7],[19.75,0.2],
  [20.0,-0.1],[20.25,0.9],[20.5,-1.1],[20.75,0.4],[21.0,-0.5],[21.25,0.7],[21.5,0.0],[21.75,-0.8],[22.0,1.1],[22.25,-0.3],
  [22.5,0.3],[22.75,-1.0],[23.0,0.6],[23.25,-0.2],[23.5,0.9],[23.75,-0.6],[24.0,0.1],[24.25,-1.2],[24.5,0.5],[24.75,-0.4],
  [25.0,1.0],[25.25,0.0],[25.5,-0.8],[25.75,0.4],[26.0,-0.2],[26.25,0.8],[26.5,-1.1],[26.75,0.2],[27.0,-0.5],[27.25,0.6],
  [27.5,-0.1],[27.75,1.1],[28.0,-0.9],[28.25,0.3],[28.5,-0.3],[28.75,0.7],[29.0,-1.2],[29.25,0.0],[29.5,0.5],[29.75,-0.6],
  [30.0,0.9],[30.25,-0.2],[30.5,0.2],[30.75,-1.0],[31.0,0.6],[31.25,-0.4],[31.5,1.0],[31.75,-0.7],[32.0,0.1],[32.25,-0.1],
  [32.5,0.8],[32.75,-1.1],[33.0,0.4],[33.25,-0.5],[33.5,0.7],[33.75,0.0],[34.0,-0.8],[34.25,1.0],[34.5,-0.3],[34.75,0.3],
  [35.0,-1.0],[35.25,0.5],[35.5,-0.1],[35.75,0.9],[36.0,-0.6],[36.25,0.2],[36.5,-0.9],[36.75,0.6],[37.0,-0.2],[37.25,1.1],
  [37.5,-0.5],[37.75,0.0],[38.0,0.7],[38.25,-1.1],[38.5,0.3],[38.75,-0.4],[39.0,0.9],[39.25,-0.1],[39.5,0.4],[39.75,-0.8],
  [40.0,0.6],[40.25,-0.3],[40.5,1.0],[40.75,-0.6],[41.0,0.1],[41.25,-1.0],[41.5,0.5],[41.75,-0.2],[42.0,0.8],[42.25,-0.7],
  [42.5,0.2],[42.75,-0.4],[43.0,0.9],[43.25,0.0],[43.5,-0.9],[43.75,0.5],[44.0,-0.3],[44.25,0.7],[44.5,-0.6],[44.75,0.1],
  [45.0,-1.0],[45.25,0.6],[45.5,-0.1],[45.75,0.9],[46.0,-0.5],[46.25,0.3],[46.5,-0.8],[46.75,0.5],[47.0,-0.2],[47.25,0.8],
  [47.5,-0.9],[47.75,0.2],[48.0,-0.4],[48.25,0.6],[48.5,0.0],[48.75,-0.7],[49.0,0.9],[49.25,-0.3],[49.5,0.3],[49.75,-0.9],
  [50.0,0.5],[50.25,-0.1],[50.5,0.7],[50.75,-0.6],[51.0,0.1],[51.25,-0.4],[51.5,0.8],[51.75,-0.8],[52.0,0.3],[52.25,-0.2],
  [52.5,0.6],[52.75,-0.6],[53.0,0.0],[53.25,0.7],[53.5,-0.4],[53.75,0.2],[54.0,-0.7],[54.25,0.5],[54.5,-0.1],[54.75,0.3],
  [55.0,-0.5],[55.5,0.4],[56.0,-0.3]
];

const rBand = [
  [-10.5,0.1],[-10.3,1.8],[-10.1,-1.6],[-10.2,-2.7],[-9.9,-2.1],[-9.7,0.6],[-9.5,-0.7],[-9.3,1.2],[-9.1,-2.3],[-8.9,-0.2],
  [-8.7,0.9],[-8.5,-1.3],[-8.3,2.0],[-8.1,0.3],[-8.0,-2.4],[-7.8,-0.8],[-7.6,1.5],[-7.4,-1.8],[-7.3,0.0],[-7.1,2.6],
  [-6.9,-0.5],[-6.8,0.8],[-6.6,-2.9],[-6.4,1.9],[-6.3,-1.2],[-6.1,3.2],[-6.0,4.1],[-5.9,-3.2],[-5.8,0.4],[-5.6,3.6],
  [-5.5,-0.9],[-5.3,2.9],[-5.2,-2.4],[-5.0,1.1],[-4.9,2.6],[-4.7,-0.3],[-4.5,1.7],[-4.4,-1.5],[-4.2,3.0],[-4.0,0.6],
  [-3.9,-2.5],[-3.7,1.3],[-3.5,3.3],[-3.4,-0.6],[-3.2,0.9],[-3.0,-3.2],[-2.9,2.2],[-2.7,-0.1],[-2.5,-1.0],[-2.4,1.6],
  [-2.2,3.4],[-2.0,-2.4],[-1.9,0.4],[-1.7,1.0],[-1.5,-0.7],[-1.4,2.4],[-1.2,-1.7],[-1.0,3.4],[-0.9,0.2],[-0.7,-0.4],
  [-0.5,1.4],[-0.3,-1.2],[-0.2,0.7],
  [0.0,-0.5],[0.2,1.0],[0.3,0.1],[0.5,-1.4],[0.6,0.5],[0.8,2.0],[0.9,-0.8],[1.1,0.3],[1.2,-0.2],[1.4,1.3],
  [1.5,-1.9],[1.7,0.6],[1.8,-0.6],[2.0,2.6],[2.1,0.0],[2.2,-4.0],[2.3,1.1],[2.5,-1.0],[2.6,0.4],[2.8,-0.3],
  [2.9,1.7],[3.1,-1.5],[3.2,0.2],[3.4,0.9],[3.5,-0.7],[3.7,2.2],[3.8,0.4],[4.0,-2.2],[4.1,-0.1],[4.3,1.2],
  [4.4,0.5],[4.6,-1.1],[4.8,3.4],[4.9,0.0],[5.0,-0.6],[5.2,1.6],[5.3,-1.7],[5.5,0.7],[5.6,-0.3],[5.8,2.4],
  [5.9,0.2],[6.1,-0.9],[6.2,1.0],[6.4,-2.6],[6.5,-0.2],[6.7,0.6],[6.8,1.8],[7.0,-1.3],[7.1,0.3],[7.3,-0.5],
  [7.4,1.4],[7.6,-2.0],[7.7,0.1],[7.9,0.8],[8.0,-0.9],[8.2,2.1],[8.3,-0.2],[8.5,0.5],[8.6,-1.6],[8.8,1.1],
  [8.9,-0.4],[9.1,-2.8],[9.2,0.3],[9.4,3.4],[9.4,-4.2],[9.5,0.9],[9.7,-0.8],[9.8,1.7],[10.0,0.0],[10.1,-1.3],
  [10.3,0.6],[10.4,-4.1],[10.6,2.3],[10.7,-0.3],[10.9,0.4],[11.0,-1.0],[11.2,1.3],[11.3,0.1],[11.5,-0.6],[11.6,2.0],
  [11.8,-1.8],[11.9,0.7],[12.1,-0.2],[12.2,1.0],[12.4,-2.3],[12.5,0.3],[12.7,-0.7],[12.8,1.6],[13.0,0.0],[13.1,-1.2],
  [13.3,0.8],[13.5,4.5],[13.6,-0.4],[13.8,1.2],[13.9,-1.6],[14.1,0.4],[14.2,2.7],[14.4,-0.1],[14.5,-2.5],[14.7,0.9],
  [14.8,-0.8],[15.0,1.5],[15.1,0.2],[15.3,-1.1],[15.4,0.6],[15.6,-0.3],[15.7,2.1],[15.9,-1.9],[16.0,0.1],[16.2,1.0],
  [16.3,-0.6],[16.5,0.5],[16.6,-1.4],[16.8,1.8],[16.9,-0.2],[17.0,3.6],[17.1,0.7],[17.3,-1.0],[17.4,0.3],[17.6,-2.9],
  [17.7,1.3],[17.9,-0.4],[18.0,-4.0],[18.2,0.8],[18.3,-1.2],[18.5,0.0],[18.6,2.5],[18.8,-0.7],[18.9,1.1],[19.1,0.4],
  [19.2,-1.6],[19.4,0.9],[19.5,-0.1],[19.7,3.0],[19.8,-0.9],[20.0,0.5],[20.1,1.4],[20.3,-2.4],[20.4,0.0],[20.6,0.8],
  [20.7,-0.6],[20.9,1.9],[21.0,-1.3],[21.2,0.3],[21.4,3.9],[21.5,-0.3],[21.7,1.0],[21.8,-2.1],[22.0,0.6],[22.1,-0.5],
  [22.3,1.5],[22.4,0.1],[22.6,-1.0],[22.7,2.3],[22.9,-0.2],[23.0,0.9],[23.2,-1.6],[23.3,0.4],[23.5,-3.0],[23.6,1.2],
  [23.8,-0.6],[23.9,0.2],[24.1,1.7],[24.2,-1.1],[24.4,0.7],[24.5,-0.2],[24.7,2.6],[24.8,-2.2],[25.0,0.3],[25.1,1.0],
  [25.3,-0.8],[25.4,0.5],[25.6,-1.4],[25.7,1.9],[25.9,-0.1],[26.0,0.8],[26.2,-2.5],[26.3,0.2],[26.5,1.3],[26.6,-0.5],
  [26.8,0.6],[26.9,-1.7],[27.1,2.1],[27.2,0.0],[27.4,-0.9],[27.5,1.1],[27.7,-0.3],[27.8,-2.0],[28.0,0.7],[28.1,3.1],
  [28.3,-0.4],[28.4,1.5],[28.6,4.5],[28.7,-1.2],[28.9,0.2],[29.0,0.9],[29.2,-0.7],[29.3,1.8],[29.5,-1.9],[29.6,0.4],
  [29.8,-0.2],[29.9,1.2],[30.1,-1.0],[30.2,2.3],[30.4,0.1],[30.5,-0.6],[30.7,0.8],[30.9,-2.3],[31.0,1.4],[31.2,-0.4],
  [31.3,0.5],[31.5,2.2],[31.6,-1.3],[31.8,0.0],[31.9,0.9],[32.1,-0.8],[32.2,1.7],[32.4,-1.8],[32.5,0.3],[32.7,-0.3],
  [32.8,1.1],[33.0,-3.4],
  [0.4,0.2],[1.3,-0.4],[2.4,0.6],[3.3,-0.5],[4.2,0.3],[5.1,-0.2],[6.0,0.5],[6.9,-0.4],[7.8,0.2],[8.7,-0.6],
  [9.6,0.4],[10.5,-0.2],[11.4,0.5],[12.3,-0.4],[13.2,0.2],[14.0,-0.5],[14.9,0.6],[15.8,-0.3],[16.7,0.3],[17.5,-0.6],
  [18.4,0.4],[19.3,-0.2],[20.2,0.6],[21.1,-0.4],[22.0,0.1],[22.8,-0.6],[23.7,0.5],[24.6,-0.3],[25.5,0.2],[26.4,-0.5],
  [27.3,0.4],[28.2,-0.1],[29.1,0.5],[30.0,-0.3],[30.8,0.3],[31.7,-0.5],[32.6,0.6],[1.6,1.1],[3.6,-1.2],[5.4,1.0],
  [7.2,-1.1],[9.0,1.2],[10.8,-1.0],[12.6,1.1],[14.3,-1.2],[16.1,1.0],[17.8,-1.1],[19.6,1.2],[21.3,-1.0],[23.1,1.1],
  [24.9,-1.1],[26.7,1.0],[28.5,-1.2],[30.3,1.0],[32.0,-1.1],
  [33.3,0.4],[33.5,-3.4],[33.6,-0.5],[33.8,1.2],[34.0,0.1],[34.1,-1.0],[34.3,0.7],[34.5,-0.2],[34.7,1.5],[34.8,-1.5],
  [35.0,0.3],[35.2,-0.6],[35.4,0.9],[35.5,0.0],[35.7,-1.2],[35.9,1.8],[36.0,0.5],[36.2,-0.3],[36.4,-3.6],[36.5,1.0],
  [36.8,-2.0],[36.9,0.2],[37.1,1.7],[37.3,-0.8],[37.4,0.6],[37.6,-0.1],[37.8,1.3],[38.0,-1.4],[38.1,0.4],[38.3,-0.5],
  [38.5,0.9],[38.7,0.0],[38.9,1.6],[39.0,-1.0],[39.2,0.3],[39.4,-0.3],[39.6,1.1],[39.7,-0.7],[39.9,0.5],[40.0,2.6],
  [40.3,1.9],[40.4,-0.2],[40.7,-2.5],[40.8,0.8],[41.0,-0.6],[41.2,0.2],[41.4,1.2],[41.6,-1.1],[41.7,0.5],[41.9,-0.1],
  [42.1,0.9],[42.3,-0.8],[42.5,0.3],[42.7,1.4],[42.9,-2.8],[43.0,-0.4],[43.2,0.6],[43.4,-1.3],[43.6,0.1],[43.8,1.0],
  [44.0,-0.6],[44.3,-2.1],[44.4,0.4],[44.6,-0.2],[44.8,1.1],[45.0,-0.9],[45.2,0.2],[45.4,0.7],[45.7,1.2],[45.7,-3.0],
  [45.9,-0.4],[46.1,0.5],[46.3,-1.2],[46.5,0.1],[46.7,0.9],[46.9,-0.6],[47.1,0.3],[47.3,-1.6],[47.5,-2.9],[47.7,0.6],
  [47.9,3.0],[47.9,1.5],[48.1,-0.2],[48.3,0.4],[48.5,-0.9],[48.7,1.0],[48.9,0.0],[49.1,-1.3],[49.3,0.5],[49.5,-0.4],
  [49.7,0.8],[49.9,-0.1],[50.1,1.3],[50.3,-0.7],[50.5,0.2],[50.7,-1.5],[50.9,0.6],[51.1,-0.3],[51.3,1.0],[51.6,0.1],
  [51.8,-1.0],[52.0,0.4],[52.2,-0.5],[52.5,0.9],[52.7,-0.2],[52.9,2.3],[53.1,-1.2],[53.4,0.3],[53.6,-0.6],[53.8,0.7],
  [54.0,1.2],[54.3,-3.4],[54.5,-0.3],[54.7,0.5],[55.0,-0.9],[55.3,0.2],[55.5,0.8],[55.8,-0.5],[56.1,0.1],[56.4,-1.3],
  [56.6,0.6],[56.9,-2.1],[57.1,-0.2],[57.4,0.4],[57.7,-0.8],[58.0,0.9],[58.3,0.0],[58.6,-0.5],[58.9,0.5],[59.2,-1.1],
  [59.5,0.2],[59.8,1.5],
  [34.6,0.3],[35.6,-0.3],[36.6,0.2],[37.5,-0.4],[38.4,0.1],[39.3,0.6],[40.2,-0.3],[41.1,0.3],[42.0,-0.4],[43.1,0.2],
  [44.1,-0.2],[45.1,0.4],[46.0,-0.2],[47.0,0.1],[48.0,-0.4],[49.0,0.3],[50.0,-0.3],[51.0,0.4],[52.1,-0.1],[53.2,0.2],
  [54.2,-0.2],[55.2,0.3],[56.3,-0.1],
  [60.1,-2.6],[60.3,0.3],[60.6,-0.4],[60.9,0.7],[61.2,-0.9],[61.5,0.2],[61.9,-2.7],[62.1,1.0],[62.4,-0.2],[62.7,0.5],
  [63.0,-1.1],[63.3,0.1],[63.6,0.8],[63.9,-0.5],[64.2,0.3],[64.5,-0.9],[64.8,1.2],[65.1,-2.5],[65.3,0.0],[65.5,-1.5],
  [65.8,0.6],[66.1,-0.3],[66.4,0.4],[66.7,-0.8],[67.0,1.0],[67.3,0.1],[67.6,-0.6],[67.9,0.5],[68.1,2.7],[68.4,-0.2],
  [68.7,0.8],[69.0,-1.0],[69.3,0.2],[69.6,0.6],[69.9,-0.4],[70.1,-2.3],[70.5,-2.0],[70.7,0.4],[71.0,-0.7],[71.3,1.1],
  [71.6,0.0],[71.9,-0.5],[72.2,0.7],[72.5,-1.2],[72.8,0.3],[73.1,-0.2],[73.4,0.9],[73.7,-0.8],[74.1,1.5],[74.3,0.2],
  [74.6,-0.5],[74.9,0.6],[75.3,-0.1],[75.6,-1.3],[75.9,0.8],[76.2,0.1],[76.6,-1.1],[76.9,0.5],[77.2,-0.4],[77.6,0.9],
  [77.9,0.2],[78.2,-0.6],[78.4,-2.8],[78.7,0.4],[79.0,-0.2],[79.3,0.6],[79.7,0.1]
];
const rCore = [
  [-3.0,0.5],[-2.75,-0.7],[-2.5,0.1],[-2.25,0.9],[-2.0,-0.3],[-1.75,0.4],[-1.5,-1.0],[-1.25,0.7],[-1.0,-0.1],[-0.75,0.3],
  [-0.5,-0.6],[-0.25,1.0],[0.0,0.0],[0.25,-0.9],[0.5,0.6],[0.75,-0.4],[1.0,0.2],[1.25,-1.1],[1.5,0.8],[1.75,-0.2],
  [2.0,0.4],[2.25,-0.7],[2.5,1.0],[2.75,0.1],[3.0,-0.5],[3.25,0.6],[3.5,-1.0],[3.75,0.3],[4.0,-0.2],[4.25,0.9],
  [4.5,-0.6],[4.75,0.0],[5.0,0.7],[5.25,-0.9],[5.5,0.2],[5.75,-0.3],[6.0,1.1],[6.25,-0.7],[6.5,0.4],[6.75,-0.1],
  [7.0,0.8],[7.25,-1.0],[7.5,0.3],[7.75,-0.4],[8.0,0.6],[8.25,0.0],[8.5,-0.8],[8.75,1.0],[9.0,-0.2],[9.25,0.5],
  [9.5,-0.6],[9.75,0.1],[10.0,-1.1],[10.25,0.8],[10.5,-0.3],[10.75,0.4],[11.0,-0.7],[11.25,0.9],[11.5,0.0],[11.75,-0.5],
  [12.0,0.6],[12.25,-0.9],[12.5,0.2],[12.75,-0.1],[13.0,1.0],[13.25,-0.6],[13.5,0.3],[13.75,-1.0],[14.0,0.7],[14.25,-0.2],
  [14.5,0.5],[14.75,-0.8],[15.0,0.0],[15.25,0.9],[15.5,-0.4],[15.75,0.2],[16.0,-0.9],[16.25,0.6],[16.5,-0.1],[16.75,1.0],
  [17.0,-0.6],[17.25,0.3],[17.5,-0.3],[17.75,0.7],[18.0,-1.0],[18.25,0.1],[18.5,0.5],[18.75,-0.5],[19.0,0.9],[19.25,-0.2],
  [19.5,0.2],[19.75,-0.8],[20.0,0.6],[20.25,0.0],[20.5,-0.6],[20.75,1.0],[21.0,-0.3],[21.25,0.4],[21.5,-1.1],[21.75,0.7],
  [22.0,-0.1],[22.25,0.3],[22.5,-0.7],[22.75,0.9],[23.0,0.0],[23.25,-0.4],[23.5,0.6],[23.75,-0.9],[24.0,0.2],[24.25,-0.2],
  [24.5,0.8],[24.75,-0.6],[25.0,0.4],[25.25,-1.0],[25.5,0.1],[25.75,0.6],[26.0,-0.3],[26.25,0.9],[26.5,-0.8],[26.75,0.0],
  [27.0,0.5],[27.25,-0.5],[27.5,0.2],[27.75,-0.9],[28.0,1.0],[28.25,-0.1],[28.5,0.4],[28.75,-0.7],[29.0,0.7],[29.25,-0.3],
  [29.5,0.0],[29.75,-1.0],[30.0,0.8],[30.25,-0.4],[30.5,0.3],[30.75,-0.6],[31.0,0.9],[31.25,0.0],[31.5,-0.8],[31.75,0.5],
  [32.0,-0.2],[32.25,0.2],[32.5,-0.5],[32.75,0.8],[33.0,-0.9],[33.25,0.4],[33.5,-0.1],[33.75,0.7],[34.0,-0.6],[34.25,0.1],
  [34.5,0.9],[34.75,-0.4],[35.0,0.3],[35.25,-0.8],[35.5,0.6],[35.75,-0.2],[36.0,0.0],[36.25,-0.7],[36.5,0.8],[36.75,-0.3],
  [37.0,0.4],[37.25,-0.9],[37.5,0.2],[37.75,0.7],[38.0,-0.5],[38.25,0.1],[38.5,-0.2],[38.75,0.9],[39.0,-0.7],[39.25,0.3],
  [39.5,-0.4],[39.75,0.6],[40.0,0.0],[40.25,-0.8],[40.5,0.5],[40.75,-0.1],[41.0,0.8],[41.25,-0.5],[41.5,0.2],[41.75,-0.9],
  [42.0,0.6],[42.25,-0.3],[42.5,0.1],[42.75,-0.6],[43.0,0.9],[43.25,-0.2],[43.5,0.4],[43.75,-0.8],[44.0,0.5],[44.25,0.0],
  [44.5,-0.4],[44.75,0.7],[45.0,-0.7],[45.25,0.3],[45.5,-0.1],[45.75,0.6],[46.0,-0.6],[46.25,0.1],[46.5,0.8],[46.75,-0.3],
  [47.0,0.3],[47.25,-0.8],[47.5,0.5],[47.75,-0.2],[48.0,0.7],[48.25,-0.5],[48.5,0.0],[48.75,0.4],[49.0,-0.7],[49.25,0.6],
  [49.5,-0.2],[49.75,0.2],[50.0,-0.6],[50.25,0.8],[50.5,-0.4],[50.75,0.1],[51.0,0.5],[51.25,-0.8],[51.5,0.3],[51.75,-0.1],
  [52.0,0.6],[52.25,-0.5],[52.5,0.0],[52.75,0.4],[53.0,-0.6],[53.25,0.2],[53.5,-0.3],[53.75,0.7],[54.0,-0.1],[54.25,0.3],
  [54.5,-0.6],[54.75,0.5],[55.0,-0.2],[55.5,0.2],[56.0,-0.5],[56.5,0.4],[57.0,-0.1],[57.5,0.3],[58.0,-0.4]
];

const iBand = [
  [-10.3,0.8],[-10.1,-0.2],[-9.9,2.1],[-9.6,-1.9],[-9.4,0.3],[-9.2,-0.6],[-9.0,1.3],[-8.8,-1.2],[-8.6,0.5],[-8.4,-2.3],
  [-8.2,1.7],[-8.0,-0.4],[-7.8,0.9],[-7.6,-1.6],[-7.4,2.4],[-7.2,-2.4],[-7.0,3.9],[-7.0,0.2],[-6.8,-0.9],[-6.6,3.2],
  [-6.5,1.4],[-6.3,-1.4],[-6.1,2.7],[-5.9,0.0],[-5.8,-2.0],[-5.6,1.9],[-5.4,-0.6],[-5.2,2.5],[-5.0,0.7],[-4.8,-1.1],
  [-4.6,1.5],[-4.4,-2.2],[-4.3,0.3],[-4.1,2.2],[-3.9,-0.3],[-3.7,1.0],[-3.5,-1.6],[-3.3,4.6],[-3.2,0.6],[-3.0,2.9],
  [-2.8,-0.8],[-2.6,4.4],[-2.5,1.7],[-2.3,-1.9],[-2.1,0.2],[-1.9,2.4],[-1.7,-0.5],[-1.5,4.5],[-1.3,1.1],[-1.1,3.2],
  [-1.0,-1.3],[-0.8,2.6],[-0.6,0.4],[-0.4,1.9],[-0.3,-0.9],[-0.1,2.9],
  [0.1,-0.2],[0.3,1.2],[0.4,-1.8],[0.6,0.5],[0.7,-3.7],[0.9,-0.6],[1.0,0.9],[1.2,-0.1],[1.3,1.6],[1.5,-1.1],
  [1.6,0.3],[1.8,-2.2],[1.9,0.8],[2.1,-0.4],[2.2,1.4],[2.4,-1.5],[2.5,0.1],[2.7,-0.9],[2.8,2.3],[3.0,0.4],
  [3.1,-0.3],[3.3,1.1],[3.4,-2.5],[3.6,-0.7],[3.7,0.6],[3.9,-1.3],[4.0,1.8],[4.2,0.0],[4.3,-0.5],[4.5,0.9],
  [4.6,-1.9],[4.8,0.3],[4.9,-2.9],[5.1,1.3],[5.2,-0.2],[5.4,0.7],[5.5,-1.0],[5.7,2.1],[5.8,0.2],[6.0,-0.8],
  [6.1,1.0],[6.3,-1.6],[6.5,-3.9],[6.6,0.5],[6.8,-0.3],[6.9,1.5],[7.1,-2.6],[7.2,0.1],[7.4,0.8],[7.5,-0.9],
  [7.7,1.9],[7.8,-0.4],[8.0,0.4],[8.1,-1.4],[8.3,4.5],[8.3,-4.5],[8.5,1.1],[8.6,-0.1],[8.8,-3.2],[8.9,0.6],
  [9.1,-0.7],[9.2,2.4],[9.4,0.0],[9.5,-1.8],[9.7,0.9],[9.8,3.3],[10.0,-0.4],[10.1,1.3],[10.3,-2.3],[10.4,0.3],
  [10.6,-0.6],[10.7,2.8],[10.9,0.7],[11.0,-1.2],[11.2,-3.8],[11.3,0.2],[11.5,1.6],[11.6,-0.5],[11.8,0.5],[11.9,-1.7],
  [12.1,2.6],[12.2,-0.2],[12.4,0.9],[12.5,-1.0],[12.7,-3.1],[12.8,0.4],[13.0,1.4],[13.1,-0.8],[13.3,0.1],[13.4,2.2],
  [13.6,-2.0],[13.7,0.6],[13.9,-0.3],[14.0,1.1],[14.2,-4.0],[14.3,-1.3],[14.5,0.2],[14.6,2.7],[14.8,-0.6],[14.9,0.8],
  [15.1,-2.4],[15.2,0.0],[15.4,1.5],[15.5,-0.9],[15.7,0.4],[15.8,3.1],[16.0,-0.2],[16.1,-3.5],[16.3,1.0],[16.4,-1.5],
  [16.6,0.3],[16.7,-4.0],[16.9,0.7],[17.0,-0.5],[17.2,2.0],[17.3,-1.1],[17.5,0.1],[17.6,-2.7],[17.8,1.3],[17.9,-0.3],
  [18.1,0.6],[18.2,3.4],[18.4,-1.6],[18.5,0.2],[18.7,1.8],[18.8,-0.7],[19.0,0.4],[19.1,-2.2],[19.3,1.1],[19.4,-0.1],
  [19.6,2.5],[19.7,-1.0],[19.9,0.5],[20.0,-3.3],[20.2,1.6],[20.3,-0.4],[20.5,0.8],[20.6,-1.4],[20.8,0.0],[21.0,2.2],
  [21.2,4.2],[21.3,-0.8],[21.4,0.6],[21.6,-2.6],[21.7,1.2],[21.9,-0.2],[22.0,0.3],[22.2,-1.2],[22.3,1.9],[22.5,-0.5],
  [22.6,0.7],[22.8,-3.0],[22.9,0.1],[23.1,1.4],[23.2,-0.9],[23.4,0.4],[23.5,-1.8],[23.7,2.8],[23.8,0.2],[24.0,-0.6],
  [24.1,1.0],[24.3,-2.1],[24.4,0.5],[24.6,4.3],[24.7,-0.3],[24.9,1.7],[25.0,-1.2],[25.2,0.3],[25.3,2.5],[25.5,-0.7],
  [25.6,0.9],[25.8,-2.6],[25.9,0.0],[26.1,1.3],[26.2,-0.4],[26.4,2.5],[26.5,-1.5],[26.7,0.6],[26.8,-3.2],[27.0,0.2],
  [27.1,1.1],[27.3,-0.8],[27.4,0.5],[27.6,2.0],[27.7,-1.7],[27.9,0.1],[28.0,-0.5],[28.2,1.5],[28.3,-2.4],[28.5,0.4],
  [28.6,-0.2],[28.8,1.0],[28.9,-1.1],[29.1,2.4],[29.2,0.3],[29.4,-0.6],[29.5,-3.8],[29.7,0.8],[29.8,-1.4],[30.0,0.0],
  [30.1,1.8],[30.3,-0.3],[30.4,0.6],[30.6,-2.0],[30.7,1.2],[30.9,-0.7],[31.0,0.3],[31.2,2.1],[31.3,-1.0],[31.5,0.5],
  [31.6,-4.3],[31.8,-0.2],[31.9,1.4],[32.1,-1.6],[32.2,0.2],[32.4,0.9],[32.5,-0.4],[32.7,1.9],[32.8,-2.2],
  [0.5,0.3],[1.4,-0.4],[2.3,0.5],[3.2,-0.3],[4.1,0.4],[5.0,-0.4],[5.9,0.5],[6.7,-0.2],[7.6,0.3],[8.4,-0.5],
  [9.3,0.4],[10.2,-0.2],[11.1,0.5],[12.0,-0.4],[12.9,0.2],[13.8,-0.5],[14.7,0.4],[15.6,-0.3],[16.5,0.5],[17.4,-0.4],
  [18.3,0.2],[19.2,-0.5],[20.1,0.3],[21.0,-0.3],[21.8,0.5],[22.7,-0.2],[23.6,0.2],[24.5,-0.5],[25.4,0.4],[26.3,-0.2],
  [27.2,0.3],[28.1,-0.5],[29.0,0.4],[29.9,-0.2],[30.8,0.4],[31.7,-0.5],[32.6,0.3],[1.1,-1.0],[2.9,1.0],[4.7,-1.2],
  [6.4,1.1],[8.2,-1.0],[9.9,1.2],[11.7,-1.1],[13.5,1.0],[15.3,-1.2],[17.1,1.0],[18.9,-1.1],[20.7,1.1],[22.4,-1.0],
  [24.2,1.1],[26.0,-1.0],[27.8,1.1],[29.6,-1.1],[31.4,1.0],
  [33.0,0.2],[33.2,-4.2],[33.3,-0.6],[33.5,0.8],[33.7,-1.2],[33.9,-2.6],[34.0,0.4],[34.2,-0.2],[34.3,1.5],[34.5,0.6],
  [34.7,-0.9],[34.9,0.1],[35.1,1.1],[35.3,-0.5],[35.5,0.3],[35.7,2.3],[35.8,-1.4],[36.0,0.7],[36.1,-4.2],[36.4,-3.5],
  [36.5,-0.1],[36.8,-1.9],[36.9,1.0],[37.1,0.4],[37.3,-0.7],[37.5,0.2],[37.7,1.3],[37.9,-1.1],[38.1,0.5],[38.3,-0.3],
  [38.5,0.9],[38.7,-1.5],[38.9,0.1],[39.1,2.4],[39.3,-0.5],[39.5,0.6],[39.7,-0.2],[40.0,-2.3],[40.1,1.0],[40.4,-1.6],
  [40.5,0.3],[40.7,-0.6],[40.9,1.2],[41.1,0.0],[41.3,-0.9],[41.5,0.7],[41.7,-0.3],[41.9,1.5],[42.1,-1.2],[42.3,0.2],
  [42.5,0.8],[42.7,-0.5],[42.9,1.9],[43.1,0.3],[43.3,-1.0],[43.6,1.6],[43.8,-0.2],[44.0,0.6],[44.3,-2.6],[44.4,-0.7],
  [44.6,0.2],[44.8,1.1],[45.0,-1.3],[45.2,0.4],[45.4,-2.6],[45.6,-0.1],[45.8,0.9],[46.0,-0.6],[46.3,0.3],[46.5,-1.0],
  [46.8,2.6],[46.9,0.7],[47.1,-0.3],[47.4,1.2],[47.6,0.0],[47.8,-0.8],[48.1,0.5],[48.3,-1.4],[48.5,-2.0],[48.7,0.2],
  [49.0,1.0],[49.2,-0.4],[49.4,0.6],[49.7,-0.9],[49.9,0.1],[50.1,1.6],[50.3,-0.2],[50.6,0.8],[50.8,-2.1],[51.0,-0.6],
  [51.3,0.4],[51.5,-0.1],[51.8,1.1],[52.0,-1.1],[52.3,0.3],[52.5,-0.5],[52.8,0.7],[53.0,0.0],[53.3,-0.8],[53.5,1.3],
  [53.8,0.2],[54.0,-0.4],[54.3,0.6],[54.6,-1.2],[54.9,0.1],[55.1,0.9],[55.4,1.4],[55.7,-0.3],[56.0,0.4],[56.3,-0.9],
  [56.6,0.2],[56.9,-0.5],[57.2,0.8],[57.5,-1.2],[57.9,2.3],[58.0,0.1],[58.3,-0.4],[58.6,3.0],[58.8,0.5],[59.1,-0.8],
  [59.4,0.2],[59.7,2.2],[59.7,-2.0],
  [33.8,0.3],[34.8,-0.3],[35.9,0.2],[36.9,-0.4],[37.9,0.4],[38.9,-0.2],[39.9,0.3],[40.8,-0.4],[41.8,0.4],[42.8,-0.2],
  [43.9,0.1],[44.9,-0.4],[45.9,0.3],[46.9,-0.2],[47.9,0.4],[48.9,-0.3],[49.9,0.5],[50.9,-0.3],[52.0,0.2],[53.1,-0.3],
  [54.1,0.4],[55.2,-0.2],[56.2,0.3],[57.3,-0.1],
  [60.0,0.4],[60.3,-0.5],[60.6,1.0],[60.9,-0.1],[61.2,0.6],[61.5,-1.0],[61.8,0.2],[62.1,-0.4],[62.5,0.8],[62.9,1.2],
  [62.9,-1.6],[63.2,0.1],[63.5,-0.6],[63.8,0.5],[64.1,-0.2],[64.4,0.9],[64.7,2.2],[64.7,-1.7],[65.0,0.0],[65.3,-0.8],
  [65.5,0.9],[65.8,0.3],[66.1,-2.0],[66.4,-0.4],[66.7,0.6],[67.0,-1.1],[67.3,0.2],[67.7,-0.3],[68.1,2.0],[68.3,0.5],
  [68.6,-0.7],[68.9,0.1],[69.2,-1.3],[69.5,0.7],[69.8,-0.2],[70.1,0.4],[70.4,-2.8],[70.7,-0.5],[71.0,0.2],[71.4,-1.0],
  [71.7,0.6],[72.0,-0.3],[72.4,0.1],[72.7,-0.8],[73.0,0.5],[73.3,-1.8],[73.6,-0.1],[73.9,0.3],[74.4,0.5],[74.7,-0.6],
  [75.0,0.0],[75.4,-1.1],[75.7,0.4],[76.1,-3.0],[76.4,-0.2],[76.8,0.7],[77.1,-0.5],[77.6,-1.6],[77.8,0.3],[78.0,0.9],
  [78.4,-0.3],[78.8,0.2],[79.2,-0.6],[79.6,0.1],[80.0,0.0]
];
const iCore = [
  [-2.0,0.2],[-1.75,-0.6],[-1.5,0.7],[-1.25,-0.2],[-1.0,0.4],[-0.75,-0.9],[-0.5,0.1],[-0.25,0.8],[0.0,-0.4],[0.25,0.3],
  [0.5,-1.0],[0.75,0.6],[1.0,-0.1],[1.25,0.9],[1.5,-0.6],[1.75,0.2],[2.0,-0.3],[2.25,0.7],[2.5,-0.9],[2.75,0.0],
  [3.0,0.5],[3.25,-0.5],[3.5,1.0],[3.75,-0.2],[4.0,0.3],[4.25,-1.0],[4.5,0.6],[4.75,-0.4],[5.0,0.1],[5.25,0.8],
  [5.5,-0.7],[5.75,0.3],[6.0,-0.1],[6.25,0.6],[6.5,-1.1],[6.75,0.2],[7.0,-0.5],[7.25,0.9],[7.5,-0.2],[7.75,0.4],
  [8.0,-0.8],[8.25,0.7],[8.5,0.0],[8.75,-0.5],[9.0,0.5],[9.25,-0.9],[9.5,0.2],[9.75,-0.2],[10.0,0.9],[10.25,-0.6],
  [10.5,0.4],[10.75,-1.0],[11.0,0.0],[11.25,0.7],[11.5,-0.4],[11.75,0.2],[12.0,-0.7],[12.25,1.0],[12.5,-0.1],[12.75,0.4],
  [13.0,-0.9],[13.25,0.6],[13.5,-0.3],[13.75,0.1],[14.0,-0.6],[14.25,0.8],[14.5,-0.2],[14.75,0.3],[15.0,-1.0],[15.25,0.5],
  [15.5,0.0],[15.75,-0.5],[16.0,0.9],[16.25,-0.8],[16.5,0.2],[16.75,-0.1],[17.0,0.6],[17.25,-0.6],[17.5,0.3],[17.75,-1.0],
  [18.0,0.8],[18.25,-0.3],[18.5,0.1],[18.75,-0.7],[19.0,0.5],[19.25,0.0],[19.5,-0.4],[19.75,0.9],[20.0,-0.9],[20.25,0.2],
  [20.5,-0.2],[20.75,0.6],[21.0,-0.6],[21.25,0.3],[21.5,-1.0],[21.75,0.8],[22.0,-0.1],[22.25,0.4],[22.5,-0.7],[22.75,0.0],
  [23.0,0.7],[23.25,-0.4],[23.5,0.2],[23.75,-0.9],[24.0,0.5],[24.25,-0.2],[24.5,0.9],[24.75,-0.6],[25.0,0.1],[25.25,-1.0],
  [25.5,0.6],[25.75,-0.3],[26.0,0.3],[26.25,-0.8],[26.5,0.8],[26.75,0.0],[27.0,-0.5],[27.25,0.4],[27.5,-0.1],[27.75,-0.9],
  [28.0,0.6],[28.25,-0.3],[28.5,0.2],[28.75,-0.7],[29.0,0.9],[29.25,-0.2],[29.5,0.4],[29.75,-0.5],[30.0,0.0],[30.25,0.7],
  [30.5,-0.8],[30.75,0.3],[31.0,-0.3],[31.25,0.5],[31.5,-0.9],[31.75,0.1],[32.0,0.8],[32.25,-0.5],[32.5,0.2],[32.75,-0.2],
  [33.0,0.6],[33.25,-0.8],[33.5,0.4],[33.75,-0.1],[34.0,0.7],[34.25,-0.6],[34.5,0.0],[34.75,0.5],[35.0,-0.9],[35.25,0.2],
  [35.5,-0.3],[35.75,0.8],[36.0,-0.5],[36.25,0.1],[36.5,0.5],[36.75,-0.7],[37.0,0.3],[37.25,-0.2],[37.5,0.9],[37.75,-0.8],
  [38.0,0.0],[38.25,0.6],[38.5,-0.4],[38.75,0.2],[39.0,-0.9],[39.25,0.7],[39.5,-0.1],[39.75,0.4],[40.0,-0.6],[40.25,0.1],
  [40.5,0.8],[40.75,-0.4],[41.0,0.3],[41.25,-0.8],[41.5,0.6],[41.75,-0.2],[42.0,0.2],[42.25,-0.6],[42.5,0.9],[42.75,0.0],
  [43.0,-0.5],[43.25,0.5],[43.5,-0.9],[43.75,0.3],[44.0,-0.1],[44.25,0.7],[44.5,-0.6],[44.75,0.1],[45.0,0.5],[45.25,-0.4],
  [45.5,0.8],[45.75,-0.8],[46.0,0.2],[46.25,-0.2],[46.5,0.6],[46.75,-0.6],[47.0,0.0],[47.25,0.4],[47.5,-0.8],[47.75,0.7],
  [48.0,-0.3],[48.25,0.2],[48.5,-0.5],[48.75,0.5],[49.0,0.0],[49.25,-0.7],[49.5,0.6],[49.75,-0.2],[50.0,0.3],[50.25,-0.6],
  [50.5,0.7],[50.75,-0.1],[51.0,0.2],[51.25,-0.8],[51.5,0.5],[51.75,-0.3],[52.0,0.0],[52.25,0.6],[52.5,-0.6],[52.75,0.2],
  [53.0,-0.2],[53.25,0.5],[53.5,-0.5],[53.75,0.1],[54.0,0.6],[54.25,-0.4],[54.5,0.2],[54.75,-0.7],[55.0,0.4],[55.5,-0.2],
  [56.0,0.3],[56.5,-0.5],[57.0,0.2],[57.5,-0.3],[58.0,0.1]
];

const bandData = [
  uBand.concat(uCore),
  bBand.concat(bCore),
  vBand.concat(vCore),
  rBand.concat(rCore),
  iBand.concat(iCore)
];
const axisIds = bandNames.map(n => 'y' + n);

function minusLabel(v) {
  return v < 0 ? '\u2212' + Math.abs(v) : String(v);
}

function bandAxis(i) {
  return {
    type: 'linear',
    position: 'left',
    stack: 'bands',
    stackWeight: 1,
    weight: bandNames.length - i,   // higher weight goes on top of the stack
    min: -4.9,
    max: 4.9,
    afterBuildTicks: s => { s.ticks = indexTicks.map(v => ({ value: v })); },
    afterFit: s => { s.width = 103; },
    grid: { display: false, drawTicks: false },
    border: { display: false },
    ticks: {
      padding: 10,
      color: '#000',
      font: { family: 'DejaVu Sans', size: 17 },
      callback: minusLabel
    }
  };
}

const scales = {
  x: {
    type: 'linear',
    position: 'bottom',
    min: -15.4,
    max: 83.5,
    afterBuildTicks: s => { s.ticks = dayTicks.map(v => ({ value: v })); },
    afterFit: s => { s.height = 75; },
    grid: { display: false, drawTicks: false },
    border: { display: false },
    ticks: { padding: 12, color: '#000', font: { family: 'DejaVu Sans', size: 17 } }
  }
};
axisIds.forEach((id, i) => { scales[id] = bandAxis(i); });

function spacedText(ctx, text, cx, cy, target) {
  ctx.letterSpacing = '0px';
  const w = ctx.measureText(text).width;
  const gap = Math.max(0, (target - w) / text.length);
  ctx.letterSpacing = gap + 'px';
  ctx.textAlign = 'left';
  ctx.fillText(text, cx - target / 2, cy);
  ctx.letterSpacing = '0px';
}

// zero lines, inward ticks, frame and band letters
const panelFrame = {
  id: 'panelFrame',
  beforeDatasetsDraw(chart) {
    const { ctx, chartArea: a, scales: sc } = chart;
    ctx.save();
    ctx.strokeStyle = '#808080';
    ctx.lineWidth = 1.4;
    ctx.setLineDash([10, 6]);
    axisIds.forEach(id => {
      const y = sc[id].getPixelForValue(0);
      ctx.beginPath();
      ctx.moveTo(a.left, y);
      ctx.lineTo(a.right, y);
      ctx.stroke();
    });
    ctx.restore();
  },
  afterDatasetsDraw(chart) {
    const { ctx, chartArea: a, scales: sc } = chart;
    const xs = sc.x;
    ctx.save();
    ctx.strokeStyle = '#000';
    ctx.lineWidth = 1.2;
    ctx.beginPath();
    axisIds.forEach(id => {
      const s = sc[id];
      for (let d = -10; d <= 80; d += 5) {
        const x = xs.getPixelForValue(d);
        const len = d % 20 === 0 ? 12 : 6;
        ctx.moveTo(x, s.top);
        ctx.lineTo(x, s.top + len);
        ctx.moveTo(x, s.bottom);
        ctx.lineTo(x, s.bottom - len);
      }
      for (let v = -4; v <= 4; v++) {
        const y = s.getPixelForValue(v);
        const major = indexTicks.includes(v);
        ctx.moveTo(a.left, y);
        ctx.lineTo(a.left + (major ? 10 : 5), y);
        if (major) {
          ctx.moveTo(a.right, y);
          ctx.lineTo(a.right - 8, y);
        }
      }
    });
    ctx.stroke();

    ctx.lineWidth = 2;
    ctx.strokeRect(a.left, a.top, a.right - a.left, a.bottom - a.top);
    ctx.beginPath();
    axisIds.slice(0, -1).forEach(id => {
      const y = sc[id].bottom;
      ctx.moveTo(a.left, y);
      ctx.lineTo(a.right, y);
    });
    ctx.stroke();

    ctx.fillStyle = '#000';
    ctx.font = '20px "Liberation Serif"';
    ctx.textAlign = 'center';
    ctx.textBaseline = 'alphabetic';
    axisIds.forEach((id, i) => {
      ctx.fillText(bandNames[i], a.right - 33, sc[id].top + 28);
    });
    ctx.restore();
  },
  afterDraw(chart) {
    const { ctx } = chart;
    ctx.save();
    ctx.fillStyle = '#000';
    ctx.font = '22px "Liberation Serif"';
    ctx.textBaseline = 'alphabetic';
    spacedText(ctx, 'Days since B\u2212band maximum', 324, 531, 361);
    ctx.translate(29, 241);
    ctx.rotate(-Math.PI / 2);
    spacedText(ctx, 'Variance index', 0, 0, 187);
    ctx.restore();
  }
};

new Chart(document.getElementById('variance'), {
  type: 'scatter',
  data: {
    datasets: bandData.map((pts, i) => ({
      label: bandNames[i],
      yAxisID: axisIds[i],
      data: pts.map(([x, y]) => ({ x, y })),
      pointRadius: 1.9,
      pointBorderWidth: 1.3,
      pointBorderColor: '#000',
      pointBackgroundColor: 'rgba(0,0,0,0)'
    }))
  },
  options: {
    responsive: false,
    animation: false,
    layout: { padding: { left: 0, right: 4, top: 7, bottom: 0 } },
    plugins: { legend: { display: false }, tooltip: { enabled: false } },
    scales
  },
  plugins: [panelFrame]
});
</script>
</body>
</html>
